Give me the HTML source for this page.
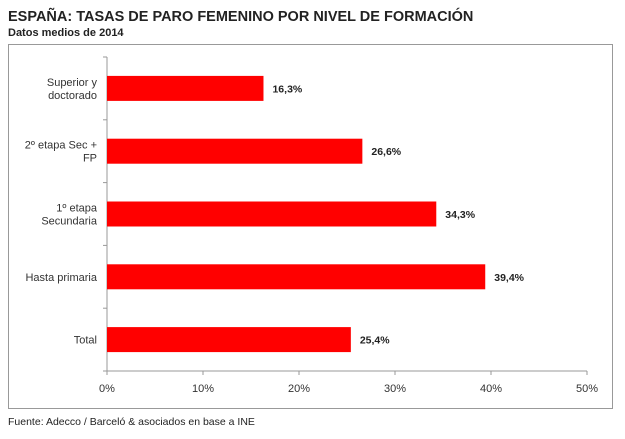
<!DOCTYPE html>
<html><head><meta charset="utf-8"><style>
body{margin:0;background:#fff;font-family:"Liberation Sans",Arial,sans-serif;}
svg text{font-family:"Liberation Sans",Arial,sans-serif;}
</style></head><body>
<svg id="c" width="625" height="434" xmlns="http://www.w3.org/2000/svg">
<text x="8" y="21" font-size="14.5" font-weight="bold" fill="#222">ESPAÑA: TASAS DE PARO FEMENINO POR NIVEL DE FORMACIÓN</text>
<text x="8" y="36" font-size="11" font-weight="bold" fill="#222">Datos medios de 2014</text>
<rect x="8.5" y="44.5" width="604" height="364" fill="none" stroke="#999"/>
<g id="plot"></g>
<text x="8" y="425" font-size="10.5" fill="#222">Fuente: Adecco / Barceló &amp; asociados en base a INE</text>
</svg>
<script>
const categories=[["Superior y","doctorado"],["2º etapa Sec +","FP"],["1º etapa","Secundaria"],["Hasta primaria"],["Total"]];
const values=[16.3,26.6,34.3,39.4,25.4];
const ticks=[0,10,20,30,40,50];
const valueLabels=["16,3%","26,6%","34,3%","39,4%","25,4%"];
const NS="http://www.w3.org/2000/svg";
const x0=107,x1=587,yTop=57,yBot=371;
const xs=v=>x0+(v-0)/(50-0)*(x1-x0);
const band=(yBot-yTop)/categories.length;
const yc=i=>yTop+band*(i+0.5);
const g=document.getElementById('plot');
function mk(t,a){const e=document.createElementNS(NS,t);for(const k in a)e.setAttribute(k,a[k]);g.appendChild(e);return e;}
let e=mk('line',{x1:x0,y1:yTop,x2:x0,y2:yBot,stroke:'#999'});


e=mk('line',{x1:x0,y1:yBot,x2:x1,y2:yBot,stroke:'#999'});


for(let i=0;i<=categories.length;i++){const t=mk('line',{x1:x0-4,x2:x0,y1:yTop+band*i,y2:yTop+band*i,stroke:'#999'});

}
ticks.forEach(v=>{
const t=mk('line',{x1:xs(v),x2:xs(v),y1:yBot,y2:yBot+4,stroke:'#999'});


const l=mk('text',{x:xs(v),y:yBot+21,'font-size':11,'text-anchor':'middle',fill:'#333'});l.textContent=v+'%';


});
categories.forEach((c,i)=>{
const cy=yc(i);
const b=mk('rect',{x:x0,y:cy-12.5,width:xs(values[i])-x0,height:25,fill:'#ff0000'});


const vl=mk('text',{x:xs(values[i])+9,y:cy+4,'font-size':10.5,'font-weight':'bold',fill:'#222'});vl.textContent=valueLabels[i];


const lt=mk('text',{x:97,'font-size':11,'text-anchor':'end',fill:'#333'});


const start=cy+4-(c.length-1)*6.5;
c.forEach((s,j)=>{const ts=document.createElementNS(NS,'tspan');ts.setAttribute('x',97);ts.setAttribute('y',start+j*13);ts.textContent=s;lt.appendChild(ts);});
});
</script>
</body></html>
